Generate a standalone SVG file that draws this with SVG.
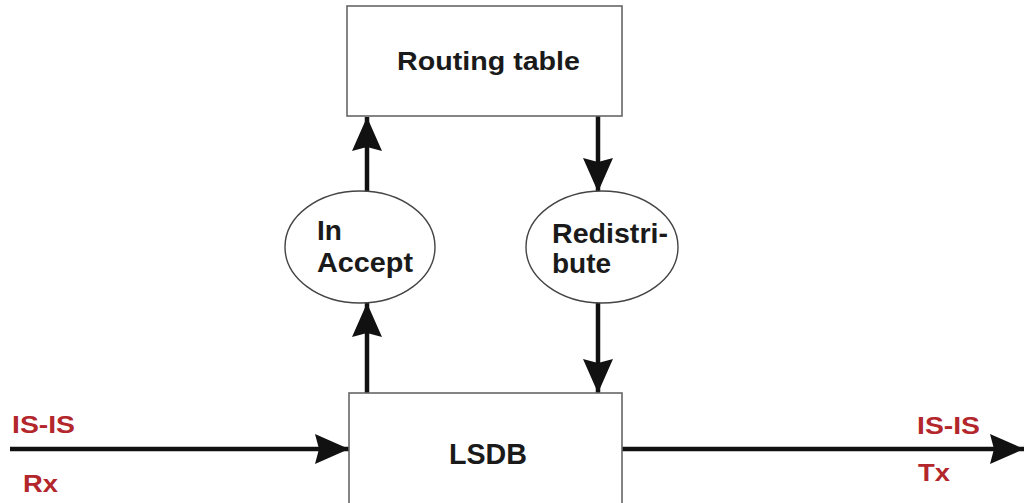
<svg xmlns="http://www.w3.org/2000/svg" width="1026" height="503" viewBox="0 0 1026 503">
<style>
.box{fill:#fff;stroke:#666;stroke-width:1.6}
.ell{fill:#fff;stroke:#444;stroke-width:1.4}
.t{font-family:"Liberation Sans",Arial,sans-serif;font-weight:bold;fill:#1a1a1a}
.r{font-family:"Liberation Sans",Arial,sans-serif;font-weight:bold;fill:#b3262b}
.c{stroke:#111;stroke-width:4.5;fill:none;marker-end:url(#ah)}
</style>
<defs>
<marker id="ah" markerUnits="userSpaceOnUse" markerWidth="36" markerHeight="32" refX="34" refY="15" orient="auto">
<path d="M0,0 L34,15 L0,30 L4,15 z" fill="#111"/>
</marker>
</defs>
<rect width="1026" height="503" fill="#fff"/>
<g id="connectors">
<line class="c" x1="10" y1="449" x2="349" y2="449"/>
<line class="c" x1="622" y1="449" x2="1024" y2="449"/>
<line class="c" x1="367" y1="393" x2="367" y2="303"/>
<line class="c" x1="367" y1="191" x2="367" y2="117"/>
<line class="c" x1="598" y1="116" x2="598" y2="192"/>
<line class="c" x1="598" y1="303" x2="598" y2="393"/>
</g>
<g id="routing-table">
<rect class="box" x="347" y="6" width="275" height="110"/>
<text class="t" x="397" y="70" font-size="25" textLength="183" lengthAdjust="spacingAndGlyphs">Routing table</text>
</g>
<g id="in-accept">
<ellipse class="ell" cx="360" cy="247" rx="75" ry="56"/>
<text class="t" x="317" y="240" font-size="28">In</text>
<text class="t" x="317" y="272" font-size="28" textLength="96" lengthAdjust="spacingAndGlyphs">Accept</text>
</g>
<g id="redistribute">
<ellipse class="ell" cx="602" cy="247" rx="76" ry="56"/>
<text class="t" x="552" y="243" font-size="28" textLength="116" lengthAdjust="spacingAndGlyphs">Redistri-</text>
<text class="t" x="552" y="273" font-size="28">bute</text>
</g>
<g id="lsdb">
<rect class="box" x="349" y="393" width="273" height="115"/>
<text class="t" x="449" y="464" font-size="29" textLength="78" lengthAdjust="spacingAndGlyphs">LSDB</text>
</g>
<g id="labels">
<text class="r" x="12" y="433" font-size="24" textLength="63" lengthAdjust="spacingAndGlyphs">IS-IS</text>
<text class="r" x="23" y="492" font-size="24" textLength="35" lengthAdjust="spacingAndGlyphs">Rx</text>
<text class="r" x="917" y="434" font-size="24" textLength="63" lengthAdjust="spacingAndGlyphs">IS-IS</text>
<text class="r" x="918" y="481" font-size="24" textLength="32" lengthAdjust="spacingAndGlyphs">Tx</text>
</g>
</svg>
